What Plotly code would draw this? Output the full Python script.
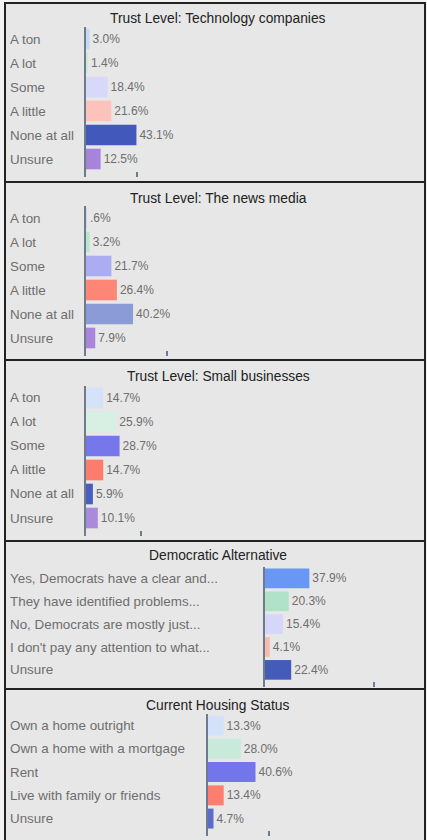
import plotly.graph_objects as go

W, H = 427, 840

# ---------------- data ----------------
trust_levels = ["A ton", "A lot", "Some", "A little", "None at all", "Unsure"]
tech_values = [3.0, 1.4, 18.4, 21.6, 43.1, 12.5]
news_values = [0.6, 3.2, 21.7, 26.4, 40.2, 7.9]
small_biz_values = [14.7, 25.9, 28.7, 14.7, 5.9, 10.1]

dem_categories = [
    "Yes, Democrats have a clear and...",
    "They have identified problems...",
    "No, Democrats are mostly just...",
    "I don't pay any attention to what...",
    "Unsure",
]
dem_values = [37.9, 20.3, 15.4, 4.1, 22.4]

housing_categories = [
    "Own a home outright",
    "Own a home with a mortgage",
    "Rent",
    "Live with family or friends",
    "Unsure",
]
housing_values = [13.3, 28.0, 40.6, 13.4, 4.7]

titles = [
    "Trust Level: Technology companies",
    "Trust Level: The news media",
    "Trust Level: Small businesses",
    "Democratic Alternative",
    "Current Housing Status",
]

# ---------------- styles ----------------
colors = [
    ["#c5d8f5", "#c8ecd9", "#d8d8fa", "#fcc3bb", "#4259bb", "#a784dc"],
    ["#c5d8f5", "#b6e8cf", "#acacf2", "#fd8676", "#8b9bd8", "#a886dd"],
    ["#d4e2fa", "#d8efe3", "#7777ec", "#fd7c6c", "#4a5ec0", "#aa8bdb"],
    ["#6897f5", "#b0e2c9", "#d6d6f8", "#f9b9b0", "#455bba"],
    ["#d3e1fa", "#c7eada", "#7276ea", "#fd7e6e", "#5b6ccc"],
]

# layout per panel: border top, border bottom, title y, axis x, domain top, domain bottom, tick
panels = [
    (3, 182, 18, 86, 27, 177, 43.3),
    (182, 360, 198, 86, 206, 356, 69.2),
    (360, 541, 377, 86, 386, 536, 47.0),
    (541, 689, 555, 265, 567, 687, 92.9),
    (689, 842, 705, 208, 714, 836, 51.8),
]

data_sets = [
    (trust_levels, tech_values),
    (trust_levels, news_values),
    (trust_levels, small_biz_values),
    (dem_categories, dem_values),
    (housing_categories, housing_values),
]

PX_PER_PCT = 1.17
RIGHT = 420
FONT = "Liberation Sans, Arial, sans-serif"
LABEL_COLOR = "#6e6e6e"
AXIS_COLOR = "#6f7b88"


def fmt(v):
    s = f"{v:.1f}%"
    if s.startswith("0."):
        s = s[1:]
    return s


def xp(px):
    return px / W


def yp(py):
    return 1 - py / H


fig = go.Figure()
shapes = []
annotations = []
layout_axes = {}

for i, ((cats, vals), (btop, bbot, ty, ax, dtop, dbot, tick)) in enumerate(zip(data_sets, panels)):
    n = i + 1
    xa = "x" if n == 1 else f"x{n}"
    ya = "y" if n == 1 else f"y{n}"
    fig.add_trace(go.Bar(
        x=vals, y=cats, orientation="h",
        marker=dict(color=colors[i], line=dict(width=0)),
        text=[fmt(v) for v in vals], textposition="outside",
        textfont=dict(family=FONT, size=12, color=LABEL_COLOR),
        cliponaxis=False, hoverinfo="skip",
        xaxis=xa, yaxis=ya, showlegend=False,
    ))
    xmax = (RIGHT - ax) / PX_PER_PCT
    layout_axes["xaxis" if n == 1 else f"xaxis{n}"] = dict(
        domain=[xp(ax), xp(RIGHT)], range=[0, xmax], anchor=ya,
        showgrid=False, zeroline=False, showline=False,
        ticks="inside", ticklen=5, tickwidth=2, tickcolor=AXIS_COLOR,
        tickvals=[tick], ticktext=[""], showticklabels=False, fixedrange=True,
    )
    nc = len(cats)
    layout_axes["yaxis" if n == 1 else f"yaxis{n}"] = dict(
        domain=[yp(dbot), yp(dtop)], range=[nc - 0.25, -0.5], anchor=xa,
        type="category", categoryorder="array", categoryarray=cats,
        showgrid=False, zeroline=False, showline=True, linecolor=AXIS_COLOR,
        linewidth=2, ticks="", showticklabels=False, fixedrange=True,
    )
    # panel border and background
    shapes.append(dict(type="rect", xref="paper", yref="paper",
                       x0=xp(5), x1=xp(425), y0=yp(bbot), y1=yp(btop),
                       line=dict(color="#222222", width=2),
                       fillcolor="#e7e7e7", layer="below"))
    # title
    annotations.append(dict(text=titles[i], xref="paper", yref="paper",
                            x=xp(218), y=yp(ty), xanchor="center", yanchor="middle",
                            showarrow=False,
                            font=dict(family=FONT, size=13.8, color="#222222")))
    # category labels (left aligned)
    for c in cats:
        annotations.append(dict(text=c, xref="paper", yref=ya, x=xp(8), y=c,
                                xanchor="left", yanchor="middle", showarrow=False,
                                font=dict(family=FONT, size=13.4, color=LABEL_COLOR)))

fig.update_layout(
    width=W, height=H,
    margin=dict(l=0, r=0, t=0, b=0),
    paper_bgcolor="#f2f2f2", plot_bgcolor="rgba(0,0,0,0)",
    bargap=0.14,
    shapes=shapes, annotations=annotations,
    **layout_axes,
)

fig.write_html(
    "out.html",
    config={"displayModeBar": False},
    post_script="document.body.style.margin='0';document.body.style.overflow='hidden';",
)
